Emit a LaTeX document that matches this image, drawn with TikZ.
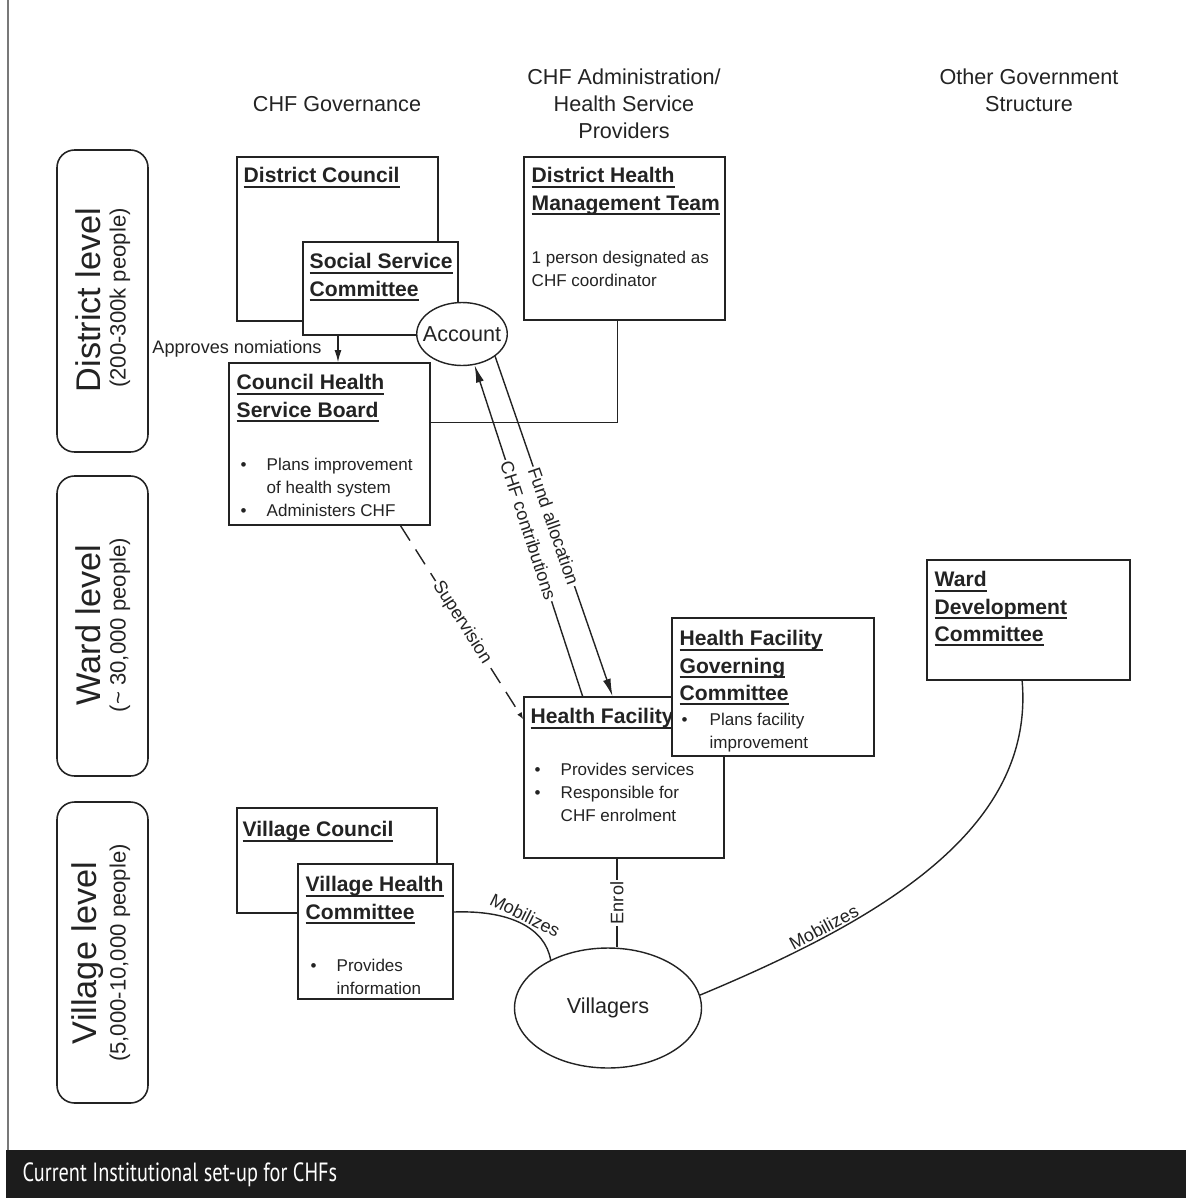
\documentclass[tikz,border=0pt]{standalone}
\usepackage{fontspec}
\setmainfont{Liberation Sans}
\newfontfamily\capfont[FakeStretch=0.77]{PT Sans}
\usetikzlibrary{positioning,arrows.meta,shapes.geometric,fit}
\definecolor{inkgray}{RGB}{35,35,35}
\definecolor{bargray}{RGB}{28,28,28}
\definecolor{rulegray}{RGB}{120,120,120}
\newsavebox\titlebox
\newcommand{\utitle}[1]{\sbox\titlebox{#1}\rlap{\rule[-2.6pt]{\wd\titlebox}{1.1pt}}\usebox\titlebox}
\newcommand{\bul}{\makebox[0.52cm][l]{\textbullet}}
\newcommand{\ind}{\hspace*{0.52cm}}
\newcommand{\hdfont}{\fontsize{12.3pt}{15.5pt}\selectfont}
\newcommand{\titlefont}{\bfseries\fontsize{12pt}{15.6pt}\selectfont}
\newcommand{\bodyfont}{\fontsize{9.7pt}{13.1pt}\selectfont}
\newcommand{\lvlfont}{\fontsize{19.5pt}{22pt}\selectfont}
\newcommand{\lvlsubfont}{\fontsize{12.6pt}{15pt}\selectfont}
\newcommand{\arrfont}{\fontsize{10.3pt}{12pt}\selectfont}

\begin{document}
\begin{tikzpicture}[x=0.02cm, y=-0.02cm, color=inkgray, line width=0.8pt,
        box/.style={draw=inkgray, fill=white, inner sep=0pt, line width=0.8pt},
        level/.style={draw=inkgray, rounded corners=10pt, inner sep=0pt, line width=0.9pt},
        head/.style={align=center, font=\hdfont, inner sep=0pt},
        title/.style={anchor=north west, align=left, font=\titlefont, inner sep=0pt},
        body/.style={anchor=north west, align=left, font=\bodyfont, inner sep=0pt},
        lbl/.style={font=\arrfont, fill=white, inner sep=1pt},
        arr/.style={-{Latex[length=10pt,width=4.5pt]}},
        arr small/.style={-{Latex[length=7pt,width=4pt]}}]

    \useasboundingbox (0,0) rectangle (1186,1198);

    % page rule and caption bar
    \draw[rulegray, line width=1.5pt] (8,0) -- (8,1150);
    \fill[bargray] (6,1150) rectangle (1186,1198);
    \node[anchor=west, text=white, font=\capfont\fontsize{15pt}{17pt}\selectfont, inner sep=0pt] (cap) at (22,1175) {Current Institutional set-up for CHFs};

    % column heads
    \node[head] (h-gov) at (337,104) {CHF Governance};
    \node[head] (h-adm) at (624,104) {CHF Administration/\\Health Service\\Providers};
    \node[head] (h-oth) at (1029,90) {Other Government\\Structure};

    % levels
    \node[level, fit={(57,150) (148,452)}] (lv-dist) {};
    \node[rotate=90, font=\lvlfont, inner sep=0pt] (lv-dist-a) at (88,300) {District level};
    \node[rotate=90, font=\lvlsubfont, inner sep=0pt] (lv-dist-b) at (120,298) {(200-300k people)};
    \node[level, fit={(57,476) (148,776)}] (lv-ward) {};
    \node[rotate=90, font=\lvlfont, inner sep=0pt] (lv-ward-a) at (88,625) {Ward level};
    \node[rotate=90, font=\lvlsubfont, inner sep=0pt] (lv-ward-b) at (120,625) {(\textasciitilde{} 30,000 people)};
    \node[level, fit={(57,802) (148,1103)}] (lv-vil) {};
    \node[rotate=90, font=\lvlfont, inner sep=0pt] (lv-vil-a) at (88,953) {Village level};
    \node[rotate=90, font=\lvlsubfont, inner sep=0pt] (lv-vil-b) at (120,953) {(5,000-10,000 people)};

    % district
    \node[box, fit={(237,157) (438,321)}] (dc) {};
    \node[title] (dc-t) at (243,167) {\utitle{District Council}};
    \node[box, fit={(303,242) (458,335)}] (ssc) {};
    \node[title] (ssc-t) at (309,253) {\utitle{Social Service}\\\utitle{Committee}};
    \node[ellipse, draw=inkgray, fill=white, minimum height=1.26cm, inner xsep=-4pt, inner ysep=0pt, font=\hdfont] (acc) at (462,334) {Account};

    \node[box, fit={(524,157) (725,320)}] (dhmt) {};
    \node[title] (dhmt-t) at (531,167) {\utitle{District Health}\\\utitle{Management Team}};
    \node[body] (dhmt-b) at (531,250) {1 person designated as\\CHF coordinator};

    \node[box, fit={(229,363) (430,525)}] (chsb) {};
    \node[title] (chsb-t) at (236,374) {\utitle{Council Health}\\\utitle{Service Board}};
    \node[body] (chsb-b) at (240,457) {\bul Plans improvement\\\ind of health system\\\bul Administers CHF};

    % ward
    \node[box, fit={(524,697) (724,858)}] (hf) {};
    \node[title] (hf-t) at (530,708) {\utitle{Health Facility}};
    \node[body] (hf-b) at (534,762) {\bul Provides services\\\bul Responsible for\\\ind CHF enrolment};

    \node[box, fit={(672,618) (874,756)}] (hfgc) {};
    \node[title] (hfgc-t) at (679,630) {\utitle{Health Facility}\\\utitle{Governing}\\\utitle{Committee}};
    \node[body] (hfgc-b) at (681,712) {\makebox[0.56cm][l]{\textbullet}Plans facility\\\hspace*{0.56cm}improvement};

    \node[box, fit={(927,560) (1130,680)}] (wdc) {};
    \node[title] (wdc-t) at (934,571) {\utitle{Ward}\\\utitle{Development}\\\utitle{Committee}};

    % village
    \node[box, fit={(237,808) (437,913)}] (vc) {};
    \node[title] (vc-t) at (242,821) {\utitle{Village Council}};
    \node[box, fit={(298,864) (453,999)}] (vhc) {};
    \node[title] (vhc-t) at (305,876) {\utitle{Village Health}\\\utitle{Committee}};
    \node[body] (vhc-b) at (310,958) {\bul Provides\\\ind information};

    \node[ellipse, draw=inkgray, fill=white, minimum width=3.74cm, minimum height=2.4cm, inner sep=0pt, font=\hdfont] (vil) at (608,1008) {Villagers};

    % links
    \draw[arr small] (ssc.-132) -- node[lbl, left=8pt] {Approves nomiations} (ssc.-132 |- chsb.north);
    \draw (dhmt.-95) |- (chsb.12);
    \draw[arr] (hf.117) -- node[lbl, sloped] {CHF contributions} (acc.-68);
    \draw[arr] (acc.-34) -- node[lbl, sloped] {Fund allocation} (hf.98);
    \draw[dash pattern=on 10pt off 6pt, -{Latex[length=4pt,width=3pt]}] (chsb.-49) -- node[lbl, sloped] {Supervision} (hf.150);
    \draw (hf.-95 |- vil.north) -- node[lbl, sloped] {Enrol} (hf.-95);
    \draw (vhc.14) .. controls (510,910) and (545,928) .. node[lbl, sloped, above, fill=none] {Mobilizes} (vil.140);
    \draw (wdc.-96) .. controls (1035,830) and (880,920) .. node[lbl, sloped, above, fill=none, pos=0.75] {Mobilizes} (vil.8);

\end{tikzpicture}
\end{document}
